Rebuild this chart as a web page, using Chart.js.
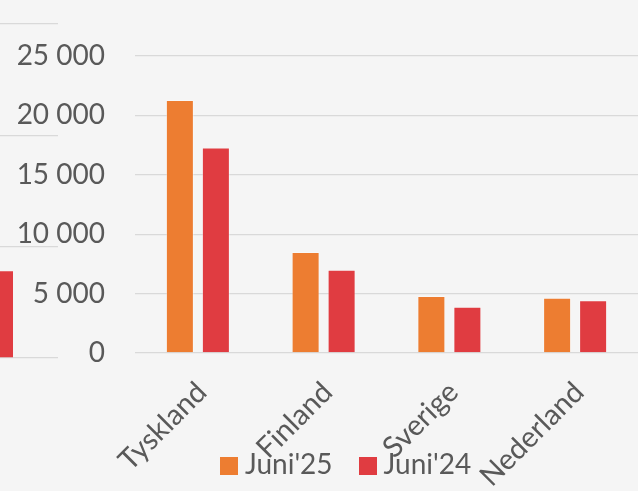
<!DOCTYPE html>
<html>
<head>
<meta charset="utf-8">
<script src="https://cdn.jsdelivr.net/npm/chart.js@4.4.1/dist/chart.umd.min.js"></script>
<style>
  html, body { margin: 0; padding: 0; background: #f5f5f5; }
  #wrap { position: relative; width: 638px; height: 491px; overflow: hidden; }
  #leftChart { position: absolute; left: -60px; top: 0; }
  #myChart { position: absolute; left: 0; top: 0; }
  #legend { position: absolute; left: 220px; top: 446px; font-family: Lato, sans-serif; font-size: 28px; color: #595959; white-space: nowrap; }
  #legend span.item { display: inline-block; margin-right: 26px; }
  #legend span.box { display: inline-block; width: 18px; height: 18px; margin-right: 7px; vertical-align: -1px; }
</style>
</head>
<body>
<div id="wrap">
  <canvas id="leftChart" width="118" height="491"></canvas>
  <canvas id="myChart" width="638" height="491"></canvas>
  <div id="legend"></div>
</div>
<script>
// data
var categories = ['Tyskland', 'Finland', 'Sverige', 'Nederland'];
var seriesNames = ["Juni'25", "Juni'24"];
var juni25 = [21300, 8500, 4800, 4650];
var juni24 = [17300, 7000, 3900, 4450];
var yTicks = [0, 5000, 10000, 15000, 20000, 25000];
// cut-off neighbour chart on the left edge
var leftCategories = [''];
var leftJuni24 = [7800];

var colors = ['#ed7d31', '#e03c41'];
var textColor = '#595959';
var gridColor = '#d9d9d9';

function fmt(v) {
    return v.toString().replace(/\B(?=(\d{3})+(?!\d))/g, ' ');
}

new Chart(document.getElementById('leftChart'), {
    type: 'bar',
    data: {
        labels: leftCategories,
        datasets: [{
            label: seriesNames[1],
            data: leftJuni24,
            backgroundColor: colors[1],
            categoryPercentage: 1,
            barPercentage: 28 / 118
        }]
    },
    options: {
        responsive: false,
        animation: false,
        layout: { padding: { top: 24, bottom: 133, left: 0, right: 0 } },
        plugins: { legend: { display: false }, tooltip: { enabled: false } },
        scales: {
            x: { display: false },
            y: {
                min: 0, max: 30000,
                ticks: { display: false, stepSize: 10000 },
                grid: { color: gridColor, lineWidth: 1.3, drawTicks: false },
                border: { display: false },
                afterFit: function (s) { s.width = 0; }
            }
        }
    }
});

new Chart(document.getElementById('myChart'), {
    type: 'bar',
    data: {
        labels: categories,
        datasets: [{
            label: seriesNames[0],
            data: juni25,
            backgroundColor: colors[0],
            borderColor: 'rgba(255,255,255,0.35)',
            borderWidth: 1,
            categoryPercentage: 0.5726,
            barPercentage: 0.778
        }, {
            label: seriesNames[1],
            data: juni24,
            backgroundColor: colors[1],
            borderColor: 'rgba(255,255,255,0.35)',
            borderWidth: 1,
            categoryPercentage: 0.5726,
            barPercentage: 0.778
        }]
    },
    options: {
        responsive: false,
        animation: false,
        layout: { padding: { top: 56, bottom: 0, left: 0, right: 0 } },
        plugins: { legend: { display: false }, tooltip: { enabled: false } },
        scales: {
            x: {
                grid: { display: false },
                border: { display: false },
                ticks: {
                    color: textColor,
                    font: { family: 'Lato', size: 29 },
                    minRotation: 45, maxRotation: 45,
                    autoSkip: false,
                    padding: 14,
                    labelOffset: 4
                },
                afterFit: function (s) {
                    s.height = 138;
                    s.paddingLeft = 0;
                    s.paddingRight = 0;
                }
            },
            y: {
                min: 0, max: 25000,
                afterBuildTicks: function (s) {
                    s.ticks = yTicks.map(function (v) { return { value: v }; });
                },
                ticks: {
                    color: textColor,
                    font: { family: 'Lato', size: 28 },
                    padding: 30,
                    callback: function (v) { return fmt(v); }
                },
                grid: { color: gridColor, lineWidth: 1.3, drawTicks: false },
                border: { display: false },
                afterFit: function (s) { s.width = 135; }
            }
        }
    }
});

// legend as html text
var legend = document.getElementById('legend');
for (let i = 0; i < seriesNames.length; i++) {
    var item = document.createElement('span');
    item.className = 'item';
    var box = document.createElement('span');
    box.className = 'box';
    box.style.background = colors[i];
    item.appendChild(box);
    item.appendChild(document.createTextNode(seriesNames[i]));
    legend.appendChild(item);
}
</script>
</body>
</html>
